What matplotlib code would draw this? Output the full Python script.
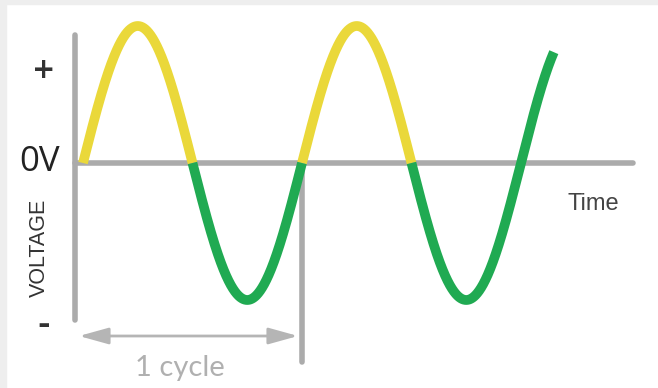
import numpy as np
import matplotlib.pyplot as plt
from matplotlib.patches import FancyArrowPatch, Rectangle

# wave description (time in cycles, voltage in units of the peak)
cycles_shown = 2.15
amplitude = 1.0
colored_cycles = 2.0     # after this the wave is drawn green only
y_labels = ['+', '0V', '-']
axis_label = 'VOLTAGE'
time_label = 'Time'
cycle_label = '1 cycle'

yellow = '#EAD83A'
green = '#20AA52'
grey = '#ABABAB'

t = np.linspace(0, cycles_shown, 4301)
v = amplitude * np.sin(2 * np.pi * t)

eps = 1e-9
pos = (v >= -eps) & (t <= colored_cycles + eps)
neg = (v <= eps) | (t >= colored_cycles - eps)
v_pos = np.where(pos, v, np.nan)
v_neg = np.where(neg, v, np.nan)

fig = plt.figure(figsize=(6.58, 3.88), dpi=100)
ax = fig.add_axes([0, 0, 1, 1])
ax.axis('off')

# pixel layout -> data units
px_x0, px_cycle = 83, 219
px_y0, px_amp = 163, 137
ax.set_xlim(-px_x0 / px_cycle, (658 - px_x0) / px_cycle)
ax.set_ylim(-(388 - px_y0) / px_amp, px_y0 / px_amp)

def dx(px):
    return (px - px_x0) / px_cycle

def dy(py):
    return (px_y0 - py) / px_amp

# frame strips at top and left
fig.patches.append(Rectangle((0, 1 - 4 / 388), 1, 4 / 388, transform=fig.transFigure,
                             color='#EEEEEE', zorder=0))
fig.patches.append(Rectangle((0, 0), 6 / 658, 1, transform=fig.transFigure,
                             color='#EEEEEE', zorder=0))

# axes lines
ax.plot([dx(75), dx(75)], [dy(35), dy(320)], color=grey, lw=4, solid_capstyle='round', zorder=1)
ax.plot([dx(75), dx(633)], [0, 0], color=grey, lw=4, solid_capstyle='round', zorder=1)
ax.plot([1, 1], [0, dy(362)], color=grey, lw=4, solid_capstyle='round', zorder=1)

# the wave
ax.plot(t, v_pos, color=yellow, lw=7, solid_capstyle='butt', zorder=3)
ax.plot(t, v_neg, color=green, lw=7, solid_capstyle='butt', zorder=3)

# one cycle arrow
arr = FancyArrowPatch((dx(79), dy(336)), (dx(298), dy(336)),
                      arrowstyle='<|-|>,head_length=0.9,head_width=0.25',
                      mutation_scale=20, lw=2, color='#B5B5B5',
                      shrinkA=0, shrinkB=0, zorder=2)
ax.add_patch(arr)

ax.text(dx(180), dy(368), cycle_label, ha='center', va='center', fontsize=21,
        color='#B0B0B0', family='Lato')
ax.text(dx(44), dy(70), y_labels[0], ha='center', va='center', fontsize=20,
        fontweight='bold', color='#333333', family='DejaVu Sans')
ax.text(dx(40), dy(162), y_labels[1], ha='center', va='center', fontsize=25,
        color='#222222', family='Open Sans')
ax.text(dx(44), dy(325), y_labels[2], ha='center', va='center', fontsize=22,
        fontweight='heavy', color='#333333', family='DejaVu Sans')
ax.text(dx(39), dy(248), axis_label, ha='center', va='center', rotation=90,
        fontsize=15.5, color='#333333', family='Liberation Sans')
ax.text(dx(593), dy(204), time_label, ha='center', va='center', fontsize=17,
        color='#444444', family='Liberation Sans')

fig.savefig('out.png', dpi=100)
